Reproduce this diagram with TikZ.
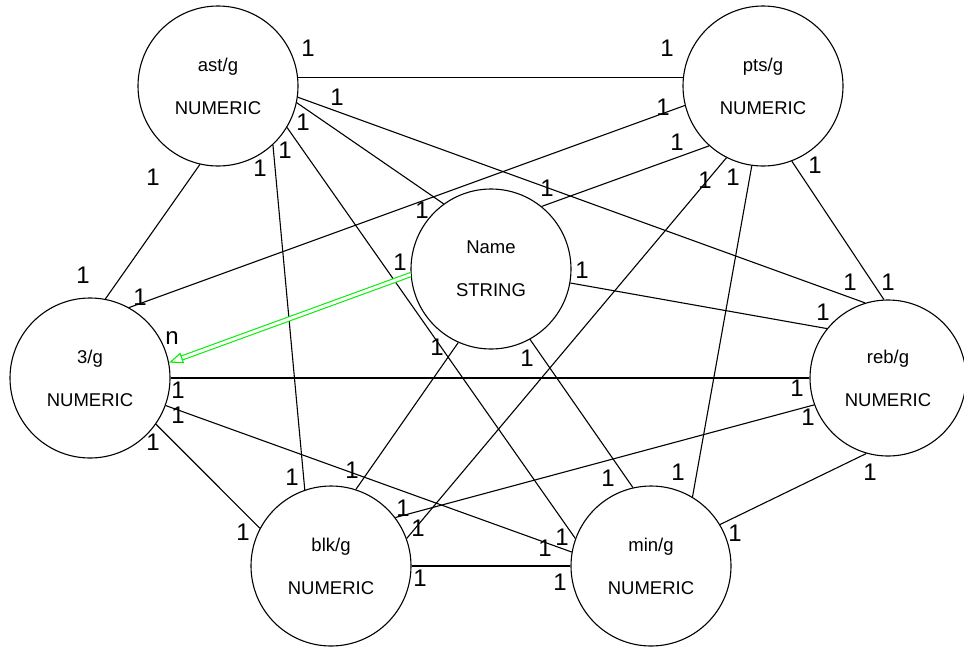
\documentclass[tikz,border=0pt]{standalone}
\usepackage{fontspec}
\setmainfont{Liberation Sans}
\usetikzlibrary{arrows.meta}
\definecolor{linkgreen}{HTML}{00F000}

\begin{document}
\begin{tikzpicture}[x=1pt, y=-1pt,
    entity/.style={circle, draw, line width=1.1pt, minimum size=160pt, inner sep=0pt, align=center, font=\fontsize{18.5}{43}\selectfont},
    rel/.style={line width=1.1pt},
    card/.style={font=\fontsize{24}{24}\selectfont, inner sep=0pt},
    idlink/.style={draw=linkgreen, double=white, double distance=3pt, line width=1.1pt, -{Triangle[open, length=14pt, width=11pt]}}
  ]
    \useasboundingbox (0,0) rectangle (964,651);
    % entities
    \node[entity] (ast) at (218,86) {ast/g\\NUMERIC};
    \node[entity] (pts) at (763,86) {pts/g\\NUMERIC};
    \node[entity] (thr) at (90,378) {3/g\\NUMERIC};
    \node[entity] (nam) at (491,269) {Name\\STRING};
    \node[entity, minimum size=156pt] (reb) at (888,378) {reb/g\\NUMERIC};
    \node[entity] (blk) at (331,566) {blk/g\\NUMERIC};
    \node[entity] (mnt) at (651,566) {min/g\\NUMERIC};
    % relations
    \draw[rel] (ast.6) -- (pts.174);
    \draw[rel] (ast.257) -- (thr.79);
    \draw[rel] (ast.-8) -- (reb.107);
    \draw[rel] (ast.-12) -- (nam.126);
    \draw[rel] (ast.-31) -- (mnt.160);
    \draw[rel] (ast.-47) -- (blk.109);
    \draw[rel] (pts.194) -- (thr.61);
    \draw[rel] (pts.228) -- (nam.51);
    \draw[rel] (pts.243) -- (blk.20);
    \draw[rel] (pts.262) -- (mnt.59);
    \draw[rel] (pts.-69) -- (reb.93);
    \draw[rel] (thr.0) -- (reb.180);
    \draw[rel] (thr.-20) -- (mnt.170);
    \draw[rel] (thr.-35) -- (blk.152);
    \draw[rel] (nam.-10) -- (reb.141);
    \draw[rel] (nam.246) -- (blk.72);
    \draw[rel] (nam.-61) -- (mnt.103);
    \draw[rel] (reb.200) -- (blk.37);
    \draw[rel] (reb.254) -- (mnt.31);
    \draw[rel] (blk.0) -- (mnt.180);
    \draw[idlink] (nam.184) -- (thr.11);
    % cardinalities
    \foreach \px/\py [count=\i] in {308/48, 337/97, 303/122, 285/150, 260/168, 153/177,
        667/48, 663/107, 677/142, 705/180, 733/177, 815/165,
        83/275, 140/297, 178/390, 178/415, 153/442,
        422/210, 547/188, 400/262, 582/270, 437/347, 527/358,
        292/477, 352/470, 243/532, 403/508, 418/528, 420/578,
        560/582, 545/548, 562/537, 608/478, 678/472, 735/533,
        850/282, 888/282, 823/312, 797/388, 808/417, 870/472}
      \node[card] (c\i) at (\px,\py) {1};
    \node[card] (cn) at (172,338) {n};
\end{tikzpicture}
\end{document}
